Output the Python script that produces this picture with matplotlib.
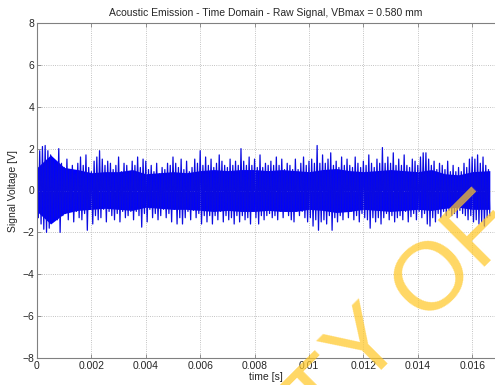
import matplotlib
matplotlib.use("Agg")
import matplotlib.pyplot as plt
from matplotlib.ticker import FuncFormatter

plt.rcParams['font.family'] = ['Liberation Sans', 'DejaVu Sans']

TITLE = "Acoustic Emission - Time Domain - Raw Signal, VBmax = 0.580 mm"
SAMPLE_STEP = 1e-4  # one upper and one lower peak per 0.1 ms
CORE_STEP = 5e-4    # dense part of the trace, read every 0.5 ms

# local positive peaks of the raw signal [V]
upper = [1.6, 1.9, 2.1, 2.15, 1.9, 1.7, 1.4, 1.3, 2.0, 1.3,
         1.1, 1.5, 1.0, 1.2, 0.8, 1.3, 1.6, 1.2, 1.7, 1.1,
         0.9, 1.4, 1.6, 1.9, 1.5, 1.2, 1.4, 1.3, 1.0,
         1.2, 1.6, 0.9, 1.3, 1.2, 0.9, 1.4, 1.2, 1.6, 1.1,
         1.5, 1.4, 1.0, 1.2, 0.9, 1.3, 0.8, 1.1, 1.0, 1.3,
         1.2, 1.6, 1.3, 1.1, 1.5, 1.0, 1.4, 0.9,
         1.1, 1.5, 1.3, 1.9, 1.2, 1.6, 1.2, 1.5, 1.1, 1.3,
         1.7, 1.4, 1.2, 1.1, 1.5, 1.2, 1.4, 1.2, 2.0, 1.4,
         1.2, 1.6, 1.2, 1.5, 1.1, 1.7, 1.1, 1.3, 1.2,
         1.4, 1.2, 1.6, 1.2, 1.5, 1.0, 1.3, 1.2, 1.0, 1.5,
         1.0, 1.3, 1.6, 1.2, 1.4, 1.5, 1.3, 2.15, 1.3, 1.7,
         1.3, 1.5, 1.8, 1.2, 1.4, 1.1, 1.6, 1.2,
         1.5, 1.2, 1.1, 1.6, 1.3, 1.1, 1.4, 1.2, 1.7, 1.3,
         1.1, 1.5, 1.3, 2.05, 1.3, 1.6, 1.3, 1.8, 1.2, 1.5,
         1.2, 1.7, 1.2, 1.1, 1.5, 1.4, 1.2, 1.6, 1.8,
         1.8, 1.5, 1.2, 1.4, 1.0, 1.3, 1.2, 1.0, 1.4, 0.9,
         1.2, 0.9, 1.1, 0.9, 1.3, 1.1, 1.5, 1.6, 1.5, 1.7,
         1.3, 1.6, 1.2, 1.0]

# local negative peaks [V]
lower = [-1.3, -1.6, -1.85, -2.0, -1.8, -1.5, -1.3, -1.4, -2.0, -1.2,
         -1.1, -1.4, -0.9, -1.5, -1.0, -1.3, -1.4, -1.1, -1.9, -0.9,
         -1.6, -1.2, -1.4, -1.3, -0.9, -1.5, -1.0, -1.2, -1.4,
         -1.1, -1.5, -1.0, -1.3, -1.2, -1.0, -1.4, -1.0, -1.2, -1.75,
         -1.1, -1.5, -0.9, -1.3, -1.1, -1.4, -1.2, -0.9, -1.3, -1.1,
         -1.5, -0.9, -1.6, -1.3, -1.6, -1.3, -1.0, -1.4,
         -0.95, -1.3, -1.1, -1.6, -1.2, -1.5, -1.2, -1.6, -1.2, -1.4,
         -1.0, -1.5, -1.2, -1.4, -1.3, -1.6, -1.2, -1.5, -1.2, -1.4,
         -1.3, -1.6, -1.0, -1.3, -1.6, -1.2, -1.4, -1.2, -1.1,
         -1.3, -1.2, -1.4, -1.0, -1.3, -1.0, -1.2, -1.4, -1.5, -1.0,
         -1.2, -1.0, -1.3, -1.5, -1.3, -1.7, -1.4, -1.9, -1.5, -1.4,
         -1.6, -1.2, -1.9, -1.3, -1.5, -1.2, -1.4, -1.0,
         -1.3, -1.0, -1.4, -1.2, -1.5, -1.1, -1.3, -1.4, -1.8, -1.3,
         -1.5, -1.3, -1.6, -1.3, -1.1, -1.4, -1.2, -1.5, -1.3, -1.2,
         -1.4, -1.0, -1.5, -1.25, -1.1, -1.4, -1.0, -1.3, -1.1,
         -1.6, -1.7, -1.3, -1.5, -1.1, -1.3, -1.0, -1.2, -0.95, -1.2,
         -1.1, -1.3, -0.95, -1.1, -1.2, -1.4, -1.2, -1.5, -1.4, -1.6,
         -1.5, -1.7, -1.3, -1.2]

# edges of the solid (dense) band of the trace [V]
core_upper = [1.1, 1.7, 1.1, 1.0, 0.85, 0.9, 0.9, 1.0, 0.8, 0.85,
              0.9, 0.85, 0.95, 1.0, 0.95, 1.0, 1.0, 0.95, 1.0, 0.95,
              0.9, 1.0, 1.05, 0.95, 0.9, 0.95, 1.0, 0.95, 0.9, 1.0,
              0.8, 0.75, 0.9, 0.95]
core_lower = [-1.0, -1.6, -1.1, -0.95, -0.9, -0.85, -0.9, -0.95, -0.8, -0.85,
              -0.9, -0.9, -0.95, -1.0, -0.95, -1.0, -1.0, -0.95, -1.0, -1.0,
              -0.9, -0.95, -1.05, -1.0, -0.9, -0.95, -1.0, -0.95, -0.9, -0.95,
              -0.85, -0.8, -0.9, -0.9]

yticks = [-8, -6, -4, -2, 0, 2, 4, 6, 8]
xticks = [0, 0.002, 0.004, 0.006, 0.008, 0.01, 0.012, 0.014, 0.016]

# interleave the peaks into one trace
t = []
v = []
for i in range(len(upper)):
    t.append(i * SAMPLE_STEP)
    v.append(upper[i])
    t.append(i * SAMPLE_STEP + SAMPLE_STEP / 2)
    v.append(lower[i])
t_core = [i * CORE_STEP for i in range(len(core_upper))]
t_core[-1] = t[-1]

fig = plt.figure(figsize=(4.95, 3.85), dpi=100)
ax = fig.add_axes([37 / 495, 27 / 385, 1 - 37 / 495, 335 / 385])

ax.fill_between(t_core, core_lower, core_upper, color='#0000ff', linewidth=0)
ax.plot(t, v, color='#0a0ae0', linewidth=0.9)

ax.set_xlim(0, 0.01684)
ax.set_ylim(-8, 8)
ax.set_xticks(xticks)
ax.set_yticks(yticks)
ax.xaxis.set_major_formatter(FuncFormatter(lambda x, p: "%g" % round(x, 4)))
ax.grid(True, linestyle=':', color='#b0b0b0', linewidth=0.6)

for side in ['top', 'bottom', 'left']:
    ax.spines[side].set_color('#808080')
    ax.spines[side].set_linewidth(0.8)
ax.spines['right'].set_visible(False)
ax.tick_params(direction='in', length=3, width=0.6, color='#808080',
               labelsize=7.5, labelcolor='#262626', top=True, pad=2)

ax.set_title(TITLE, fontsize=7.5, color='#262626', pad=5)
ax.set_xlabel("time [s]", fontsize=7.5, color='#262626', labelpad=1)
ax.set_ylabel("Signal Voltage [V]", fontsize=7.5, color='#262626', labelpad=3)

# watermark of the source document
wm = dict(fontsize=70, color='#FFC828', alpha=0.72, rotation=45,
          rotation_mode='anchor', va='baseline', transform=fig.transFigure)
fig.text(362 / 495, -4 / 385, "Y OF M", ha='left', **wm)
fig.text(362 / 495, -4 / 385, "UNIVERSIT", ha='right', **wm)

fig.savefig("out.png", dpi=100)
